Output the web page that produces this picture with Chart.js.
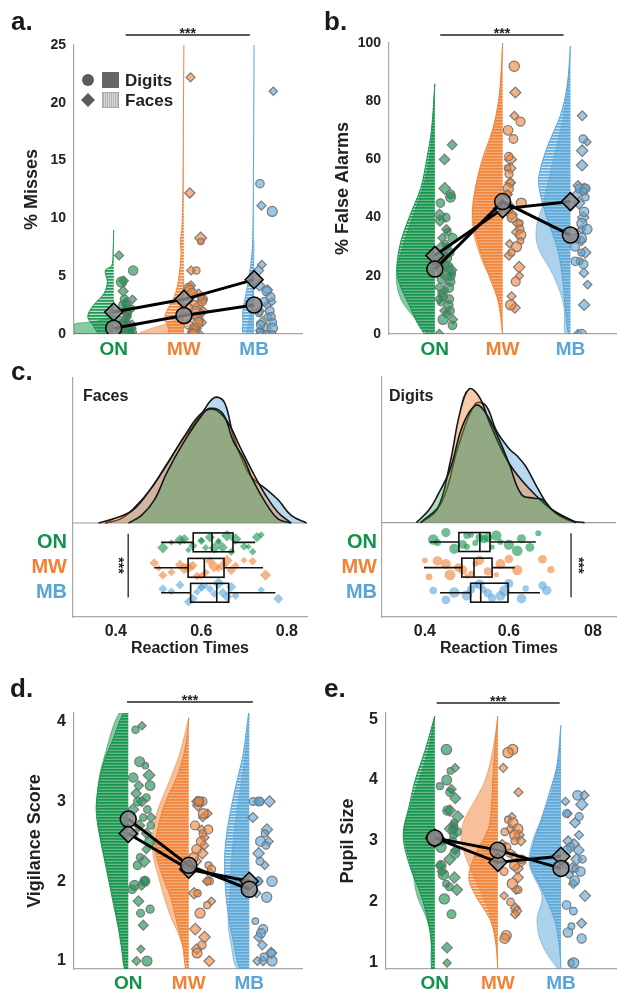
<!DOCTYPE html>
<html><head><meta charset="utf-8">
<script src="https://cdn.jsdelivr.net/npm/chart.js@4.4.0/dist/chart.umd.min.js"></script>
<style>
html,body{margin:0;padding:0;background:#fff}
body{width:627px;height:994px;position:relative;overflow:hidden;font-family:"Liberation Sans",Arial,Helvetica,sans-serif}
canvas{position:absolute;display:block}
.lab{position:absolute;font-weight:bold;font-size:26px;line-height:26px;color:#1a1a1a}
</style></head><body>
<canvas id="ca" width="313" height="360" style="left:0;top:0"></canvas>
<canvas id="cb" width="314" height="360" style="left:313px;top:0"></canvas>
<canvas id="cc1" width="313" height="300" style="left:0;top:360px"></canvas>
<canvas id="cc2" width="314" height="300" style="left:313px;top:360px"></canvas>
<canvas id="cd" width="313" height="324" style="left:0;top:670px"></canvas>
<canvas id="ce" width="314" height="324" style="left:313px;top:670px"></canvas>
<div class="lab" style="left:11px;top:8px">a.</div>
<div class="lab" style="left:324px;top:8px">b.</div>
<div class="lab" style="left:11px;top:358px">c.</div>
<div class="lab" style="left:10px;top:675px">d.</div>
<div class="lab" style="left:324px;top:675px">e.</div>
<script>
// ---------------- DATA ----------------
const categories = ['ON','MW','MB'];
const catColors = ['#12924a','#f08236','#5aa5d8'];

// a. % Misses
const missTicks = [0,5,10,15,20,25];
const missDigits = [
 [0,0,0.2,0.3,0.5,0.6,0.8,1.0,1.1,1.2,1.5,1.8,2.0,2.2,2.5,3.0,4.5,5.5,0.4,0.1],
 [8.0,5.5,4.0,3.8,3.5,3.0,2.5,2.2,2.0,1.5,1.2,1.0,0.8,0.5,0.3,0.1,0,0,2.8,3.2],
 [13.0,10.6,3.7,3.2,2.8,2.0,1.8,1.5,1.0,0.8,0.5,0.2,0,0]
];
const missFaces = [
 [6.8,4.6,3.7,3.0,2.7,2.5,2.0,1.8,1.5,1.0,0.8,0.5,0.2,0],
 [22.2,12.2,8.3,5.5,4.2,3.5,3.0,2.5,2.0,1.8,1.5,1.0,0.5,0.2,0],
 [21.0,11.1,6.0,5.5,4.2,3.8,2.8,2.5,2.0,1.5,1.0,0.5,0.3,0]
];
const missMeanDigits = [0.5,1.6,2.5];
const missMeanFaces = [1.9,3.0,4.7];
const missDensDigits = [
 [[0,0.57],[0.8,0.57],[1.0,0.4],[1.3,0.12],[2,0.03],[3,0]],
 [[0,0.64],[0.5,0.45],[1,0.2],[1.5,0.08],[3,0.02],[5,0]],
 [[0,0.1],[1,0.08],[2,0.05],[4,0.02],[8,0]]
];
const missDensFaces = [
 [[0,0.2],[0.8,0.3],[1.5,0.37],[2.4,0.3],[3.5,0.14],[4.5,0.09],[5.5,0.12],[5.9,0.03],[7,0.01],[9,0]],
 [[0,0.2],[0.5,0.22],[1.5,0.27],[2.5,0.2],[3.5,0.12],[5,0.07],[7,0.04],[8,0.05],[9,0.03],[12,0.015],[18,0.008],[25,0]],
 [[0,0.15],[1,0.16],[2,0.16],[3,0.13],[4,0.1],[5,0.07],[7,0.03],[10,0.015],[15,0.008],[25,0]]
];

// b. % False Alarms
const faTicks = [0,20,40,60,80,100];
const faDigits = [
 [48,47,45,40,35,33,31,30,28,27,26,25,24,23,22,21,20,19,18,16,15,14,13,12,11,10,8,7,5,3],
 [92,73,70,67,61,57,55,52,50,48,45,43,40,38,36,34,32,30,28,18,10],
 [67,50,50,49,47,42,38,36,33,33,30,28,25,25,24,0]
];
const faFaces = [
 [65,60,50,41,39,36,33,30,27,25,22,20,16,12,8,5,0],
 [83,75,60,57,52,48,44,41,38,35,31,27,23,20,13,9],
 [75,66,63,58,51,50,48,45,40,36,32,28,21,17,10,0]
];
const faMeanDigits = [22.3,45.5,34];
const faMeanFaces = [27,43,45.5];
const faDensDigits = [
 [[0,0.1],[5,0.28],[12,0.5],[20,0.57],[28,0.5],[40,0.33],[50,0.18],[60,0.08],[75,0.02],[86,0]],
 [[0,0],[15,0.1],[25,0.3],[35,0.43],[45,0.44],[55,0.35],[65,0.2],[80,0.06],[100,0]],
 [[0,0.08],[10,0.1],[20,0.25],[30,0.48],[37,0.5],[45,0.4],[55,0.3],[65,0.2],[75,0.1],[90,0.02],[99,0]]
];
const faDensFaces = [
 [[0,0.15],[10,0.38],[20,0.55],[30,0.52],[40,0.38],[50,0.21],[60,0.12],[70,0.05],[86,0]],
 [[0,0],[10,0.05],[20,0.2],[30,0.35],[40,0.44],[50,0.4],[60,0.3],[70,0.15],[80,0.06],[90,0.02],[100,0]],
 [[0,0.03],[10,0.08],[20,0.12],[30,0.2],[40,0.35],[50,0.46],[55,0.46],[65,0.33],[75,0.15],[85,0.05],[99,0]]
];

// c. Reaction times
const rtTicks = [0.4,0.6,0.8];
const rtTickLabelsFaces = ['0.4','0.6','0.8'];
const rtTickLabelsDigits = ['0.4','0.6','08'];
const rtDensFaces = [
 [[0.43,0],[0.46,0.3],[0.49,0.9],[0.52,2.0],[0.56,3.2],[0.6,4.2],[0.62,4.5],[0.65,4.3],[0.675,3.2],[0.7,2.5],[0.72,1.7],[0.75,0.8],[0.78,0.15],[0.81,0]],
 [[0.36,0],[0.4,0.2],[0.44,0.5],[0.48,1.3],[0.52,2.3],[0.56,3.4],[0.6,4.3],[0.63,4.45],[0.66,4.0],[0.69,3.0],[0.72,2.0],[0.75,1.1],[0.78,0.4],[0.81,0]],
 [[0.375,0],[0.41,0.15],[0.44,0.54],[0.48,1.3],[0.52,2.33],[0.56,3.36],[0.6,4.26],[0.62,4.77],[0.636,4.94],[0.655,4.7],[0.675,3.4],[0.7,2.3],[0.72,1.75],[0.75,1.35],[0.78,0.9],[0.81,0.3],[0.846,0]]
];
const rtDensDigits = [
 [[0.38,0],[0.41,0.5],[0.43,1.05],[0.46,2.08],[0.49,3.8],[0.52,4.58],[0.54,4.4],[0.57,3.5],[0.6,2.33],[0.63,1.1],[0.66,0.95],[0.68,0.9],[0.71,0.4],[0.76,0]],
 [[0.39,0],[0.43,0.54],[0.46,2.33],[0.483,4.26],[0.505,5.22],[0.53,4.9],[0.555,3.87],[0.6,2.33],[0.65,1.3],[0.7,0.54],[0.76,0]],
 [[0.39,0],[0.44,0.8],[0.48,3.0],[0.52,4.64],[0.545,4.58],[0.57,3.6],[0.6,2.9],[0.62,2.6],[0.64,2.2],[0.67,1.3],[0.7,0.54],[0.74,0.1],[0.78,0]]
];
const rtPtsFaces = [
 [0.51,0.53,0.55,0.56,0.57,0.58,0.6,0.6,0.61,0.62,0.63,0.64,0.64,0.65,0.66,0.67,0.68,0.7,0.71,0.72,0.73,0.74],
 [0.49,0.5,0.51,0.53,0.55,0.56,0.57,0.58,0.59,0.6,0.61,0.62,0.63,0.64,0.65,0.66,0.67,0.68,0.7,0.72,0.75],
 [0.51,0.53,0.55,0.57,0.58,0.59,0.6,0.6,0.61,0.62,0.63,0.64,0.65,0.66,0.67,0.68,0.74,0.78]
];
const rtPtsDigits = [
 [0.42,0.43,0.45,0.47,0.49,0.5,0.5,0.51,0.52,0.53,0.54,0.55,0.56,0.57,0.58,0.6,0.62,0.63,0.65,0.67],
 [0.4,0.41,0.43,0.45,0.46,0.48,0.49,0.5,0.51,0.52,0.53,0.55,0.57,0.58,0.6,0.62,0.68,0.7],
 [0.42,0.45,0.47,0.5,0.51,0.52,0.53,0.54,0.55,0.56,0.58,0.59,0.6,0.63,0.64,0.68,0.69]
];
// [lower whisker, q1, median, q3, upper whisker]
const rtBoxFaces = [[0.506,0.581,0.625,0.674,0.726],[0.49,0.569,0.607,0.653,0.744],[0.506,0.575,0.636,0.664,0.773]];
const rtBoxDigits = [[0.412,0.481,0.531,0.555,0.664],[0.398,0.488,0.517,0.56,0.614],[0.436,0.509,0.533,0.598,0.674]];

// d. Vigilance
const vigTicks = [1,2,3,4];
const vigDigits = [
 [3.9,3.5,3.45,3.3,3.2,3.05,3.0,2.9,2.8,2.7,2.6,2.5,2.3,2.2,2.0,1.95,1.9,1.65,1.6,1.0],
 [3.0,3.0,3.0,2.85,2.7,2.65,2.6,2.5,2.4,2.3,2.2,2.15,2.0,2.0,1.85,1.7,1.6,1.2,1.1],
 [3.0,3.0,3.0,2.6,2.5,2.45,2.25,2.0,2.0,1.8,1.5,1.4,1.35,1.1,1.05,1.0]
];
const vigFaces = [
 [3.95,3.33,3.2,3.1,3.0,2.9,2.8,2.7,2.6,2.4,2.25,2.0,1.95,1.75,1.45,1.15,1.0],
 [3.0,2.95,2.85,2.8,2.65,2.55,2.45,2.35,2.25,2.1,2.0,1.85,1.75,1.4,1.3,1.15,1.0],
 [3.0,3.0,2.8,2.65,2.5,2.35,2.2,2.0,1.85,1.3,1.2,1.1,1.0,1.0]
];
const vigMeanDigits = [2.78,2.2,1.9];
const vigMeanFaces = [2.6,2.15,2.0];
const vigDensDigits = [
 [[0.9,0.05],[1.2,0.1],[1.6,0.2],[2.0,0.3],[2.4,0.42],[2.8,0.5],[3.2,0.5],[3.6,0.38],[4.11,0.15]],
 [[0.9,0],[1.3,0.15],[1.6,0.32],[2.0,0.48],[2.4,0.6],[2.8,0.55],[3.2,0.35],[3.6,0.15],[4.05,0]],
 [[0.9,0.2],[1.2,0.3],[1.5,0.35],[1.8,0.32],[2.2,0.3],[2.6,0.25],[3.0,0.18],[3.5,0.08],[4.1,0]]
];
const vigDensFaces = [
 [[0.9,0.06],[1.1,0.1],[1.4,0.16],[1.7,0.24],[2.0,0.32],[2.3,0.4],[2.6,0.48],[2.9,0.53],[3.2,0.49],[3.5,0.4],[3.8,0.24],[4.11,0.08]],
 [[0.9,0.05],[1.2,0.1],[1.5,0.2],[1.8,0.3],[2.1,0.45],[2.4,0.55],[2.7,0.5],[3.0,0.38],[3.3,0.2],[3.6,0.08],[3.85,0.02],[4.05,0]],
 [[0.9,0.15],[1.2,0.25],[1.6,0.35],[2.0,0.4],[2.4,0.4],[2.8,0.33],[3.2,0.22],[3.6,0.1],[4.11,0.01]]
];

// e. Pupil size
const pupTicks = [1,2,3,4,5];
const pupDigits = [
 [4.5,4.15,4.0,3.9,3.8,3.5,3.3,3.25,3.2,3.15,3.1,3.0,2.9,2.8,2.6,2.45,2.3,2.25,2.05,1.8],
 [4.5,4.45,3.35,3.3,3.2,3.15,3.1,3.0,2.9,2.8,2.7,2.6,2.5,2.3,2.2,2.0,1.45,1.4],
 [3.75,3.45,3.4,2.9,2.85,2.7,2.6,2.55,2.5,2.45,2.35,1.95,1.85,1.6,1.5,1.4,1.0,1.0]
];
const pupFaces = [
 [4.2,3.85,3.7,3.5,3.4,3.2,3.0,2.85,2.7,2.6,2.5,2.4,2.2,1.25,1.0],
 [4.2,3.8,3.4,3.2,3.1,3.0,2.95,2.75,2.65,2.55,2.4,2.2,2.1,1.9,1.85,1.8],
 [3.75,3.65,3.6,3.45,3.3,3.1,3.0,2.95,2.85,2.7,2.55,2.3,2.1,1.65]
];
const pupMeanDigits = [3.05,2.85,2.55];
const pupMeanFaces = [3.05,2.65,2.75];
const pupDensDigits = [
 [[0.9,0.02],[1.3,0.05],[1.7,0.12],[2.1,0.28],[2.5,0.35],[2.9,0.45],[3.2,0.48],[3.6,0.38],[4.0,0.25],[4.5,0.1],[5.05,0]],
 [[0.9,0],[1.5,0.05],[2.0,0.2],[2.5,0.42],[3.0,0.58],[3.3,0.55],[3.6,0.4],[4.0,0.2],[4.5,0.08],[5.05,0]],
 [[0.9,0.05],[1.3,0.3],[1.7,0.38],[2.1,0.3],[2.6,0.5],[3.0,0.45],[3.5,0.25],[4.0,0.1],[4.9,0]]
];
const pupDensFaces = [
 [[0.9,0.05],[1.4,0.06],[1.8,0.13],[2.2,0.25],[2.6,0.4],[3.1,0.5],[3.6,0.4],[4.0,0.31],[4.5,0.15],[5.05,0]],
 [[0.9,0],[1.3,0.03],[1.7,0.12],[2.1,0.35],[2.4,0.46],[2.8,0.35],[3.2,0.15],[3.6,0.1],[4.0,0.08],[4.5,0.05],[5.05,0]],
 [[0.9,0],[1.3,0.03],[1.7,0.1],[2.2,0.3],[2.6,0.48],[2.9,0.45],[3.3,0.33],[3.8,0.18],[4.3,0.05],[4.9,0]]
];

// ---------------- RENDERING ----------------
const FONT = '"Liberation Sans", Arial, Helvetica, sans-serif';
Chart.defaults.font.family = FONT;
Chart.defaults.color = '#222';
Chart.defaults.animation = false;
Chart.defaults.events = [];
Chart.defaults.plugins.legend.display = false;
Chart.defaults.plugins.tooltip.enabled = false;

function rgba(hex,a){const n=parseInt(hex.slice(1),16);return `rgba(${n>>16&255},${n>>8&255},${n&255},${a})`;}
function jit(i,s){const t=Math.sin((i+1)*12.9898+s*78.233)*43758.5453;return t-Math.floor(t);}
function hatch(hex){
  const c=document.createElement('canvas');c.width=4;c.height=3;
  const g=c.getContext('2d');
  g.fillStyle=rgba(hex,0.95);g.fillRect(0,0,4,1);
  g.fillStyle=rgba(hex,0.75);g.fillRect(0,1,4,1);
  g.fillStyle=rgba(hex,0.3);g.fillRect(0,2,4,1);
  return g.createPattern(c,'repeat');
}
function violin(cat,dens,hex,hatched){
  const pts=[{x:cat,y:dens[0][0]}];
  dens.forEach(d=>pts.push({x:cat-d[1],y:d[0]}));
  pts.push({x:cat,y:dens[dens.length-1][0]});
  return {type:'line',data:pts,fill:'shape',backgroundColor:hatched?hatch(hex):rgba(hex,0.5),
    borderColor:rgba(hex,hatched?0.95:0.55),borderWidth:1,pointRadius:0,tension:0.35,order:hatched?15:20};
}
function cloud(cat,vals,hex,style,seed,spread){
  return {type:'scatter',data:vals.map((v,i)=>({x:cat+0.06+spread*jit(i,seed),y:v})),
    pointStyle:style,pointRadius:vals.map((v,i)=>(style==='circle'?3.2:4.0)+2.0*jit(i,seed+7)),
    pointBackgroundColor:rgba(hex,0.62),pointBorderColor:'rgba(118,118,118,0.95)',pointBorderWidth:1.2,order:5};
}
function means(vals,style){
  return {type:'line',data:vals.map((v,i)=>({x:i+1,y:v})),borderColor:'#000',borderWidth:3,
    pointStyle:style,pointRadius:style==='circle'?8:9,pointBackgroundColor:'rgba(135,135,135,0.85)',
    pointBorderColor:'#000',pointBorderWidth:1.5,fill:false,tension:0,order:0};
}
function sigBar(chart,x1,x2,y){
  const xs=chart.scales.x,ctx=chart.ctx;
  const a=xs.getPixelForValue(x1),b=xs.getPixelForValue(x2);
  ctx.save();ctx.strokeStyle='#222';ctx.lineWidth=1.3;
  ctx.beginPath();ctx.moveTo(a,y);ctx.lineTo(b,y);ctx.stroke();
  ctx.fillStyle='#222';ctx.font='bold 14px '+FONT;ctx.textAlign='center';ctx.textBaseline='alphabetic';
  ctx.fillText('***',(a+b)/2,y+3);ctx.restore();
}
function rainChart(id,o){
  const ds=[];
  for(let i=0;i<3;i++){ds.push(violin(i+1,o.densD[i],catColors[i],false));ds.push(violin(i+1,o.densF[i],catColors[i],true));}
  for(let i=0;i<3;i++){ds.push(cloud(i+1,o.ptsD[i],catColors[i],'circle',i*3+1+o.seed,o.spread));ds.push(cloud(i+1,o.ptsF[i],catColors[i],'rectRot',i*3+2+o.seed,o.spread));}
  ds.push(means(o.meanD,'circle'));ds.push(means(o.meanF,'rectRot'));
  return new Chart(document.getElementById(id),{type:'scatter',data:{datasets:ds},
    options:{responsive:false,layout:{padding:{top:o.padTop,right:o.padRight,left:0,bottom:0}},
      scales:{
        x:{type:'linear',min:o.xmin,max:o.xmax,
          afterBuildTicks:s=>{s.ticks=[1,2,3].map(v=>({value:v}));},
          afterFit:s=>{s.height=o.xH;},
          grid:{display:false,drawTicks:false},border:{color:'#a8a8a8',width:1.2},
          ticks:{padding:o.xPad,font:{size:19,weight:'bold'},color:c=>catColors[c.index],callback:(v,i)=>categories[i]}},
        y:{type:'linear',min:o.ymin,max:o.ymax,
          afterBuildTicks:s=>{s.ticks=o.ticks.map(v=>({value:v}));},
          afterFit:s=>{s.width=o.yW;},
          grid:{display:false,drawTicks:false},border:{color:'#a8a8a8',width:1.2},
          ticks:{padding:8,font:{size:o.tickSize,weight:'bold'},color:'#222',callback:v=>String(v)},
          title:{display:true,text:o.title,font:{size:18,weight:'bold'},color:'#222',padding:{top:o.titlePad,bottom:0}}}
      }},
    plugins:[{id:'ann',afterDraw(ch){sigBar(ch,o.sig[0],o.sig[1],o.sig[2]);if(o.extra)o.extra(ch);}}]});
}

function legendA(ch){
  const ctx=ch.ctx;ctx.save();
  ctx.fillStyle='#5a5a5a';
  ctx.beginPath();ctx.arc(88,80,6,0,Math.PI*2);ctx.fill();
  ctx.fillStyle='#666';ctx.fillRect(102,72,17,16);
  ctx.beginPath();ctx.moveTo(88,93);ctx.lineTo(95,100);ctx.lineTo(88,107);ctx.lineTo(81,100);ctx.closePath();ctx.fillStyle='#5a5a5a';ctx.fill();
  ctx.fillStyle='#d6d6d6';ctx.fillRect(102,92,17,16);
  ctx.strokeStyle='#b5b5b5';ctx.lineWidth=1;
  for(let x=103.5;x<119;x+=2){ctx.beginPath();ctx.moveTo(x,92);ctx.lineTo(x,108);ctx.stroke();}
  ctx.strokeStyle='#aaa';ctx.strokeRect(102.5,92.5,16,15);
  ctx.fillStyle='#222';ctx.font='bold 17px '+FONT;ctx.textAlign='left';ctx.textBaseline='middle';
  ctx.fillText('Digits',125,81);ctx.fillText('Faces',125,101);
  ctx.restore();
}

rainChart('ca',{densD:missDensDigits,densF:missDensFaces,ptsD:missDigits,ptsF:missFaces,meanD:missMeanDigits,meanF:missMeanFaces,
  ticks:missTicks,ymin:0,ymax:25,xmin:0.434,xmax:3.69,padTop:45,padRight:3,yW:74,xH:26,xPad:4,tickSize:14,
  title:'% Misses',titlePad:21,spread:0.22,seed:0,sig:[1.17,2.94,35],extra:legendA});
rainChart('cb',{densD:faDensDigits,densF:faDensFaces,ptsD:faDigits,ptsF:faFaces,meanD:faMeanDigits,meanF:faMeanFaces,
  ticks:faTicks,ymin:0,ymax:100,xmin:0.324,xmax:3.68,padTop:43,padRight:0,yW:76,xH:26,xPad:4,tickSize:14,
  title:'% False Alarms',titlePad:19,spread:0.22,seed:20,sig:[1.08,2.9,35]});
rainChart('cd',{densD:vigDensDigits,densF:vigDensFaces,ptsD:vigDigits,ptsF:vigFaces,meanD:vigMeanDigits,meanF:vigMeanFaces,
  ticks:vigTicks,ymin:0.9,ymax:4.11,xmin:0.104,xmax:3.88,padTop:43,padRight:3,yW:74,xH:25,xPad:3,tickSize:16,
  title:'Vigilance Score',titlePad:24,spread:0.32,seed:40,sig:[0.98,3.06,32]});
rainChart('ce',{densD:pupDensDigits,densF:pupDensFaces,ptsD:pupDigits,ptsF:pupFaces,meanD:pupMeanDigits,meanF:pupMeanFaces,
  ticks:pupTicks,ymin:0.9,ymax:5.1,xmin:0.227,xmax:3.88,padTop:43,padRight:0,yW:73,xH:25,xPad:3,tickSize:16,
  title:'Pupil Size',titlePad:24,spread:0.32,seed:60,sig:[1.03,2.98,33]});

// panel c
const rtRows=[-0.76,-1.76,-2.74];
const rtFillAlpha=[0.33,0.42,0.42];
function rtChart(id,o){
  const ds=[{type:'line',data:[{x:o.xmin,y:0},{x:o.xmax,y:0}],borderColor:'#9a9a9a',borderWidth:1.2,pointRadius:0,order:40}];
  [2,1,0].forEach((i,k)=>ds.push({type:'line',data:o.dens[i].map(d=>({x:d[0],y:d[1]})),fill:'origin',
    backgroundColor:rgba(catColors[i],rtFillAlpha[i]),borderColor:'#161616',borderWidth:1.6,pointRadius:0,tension:0.4,order:30-k}));
  for(let i=0;i<3;i++){
    const pts=o.pts[i];
    ds.push({type:'scatter',data:pts.map((v,k)=>({x:v,y:rtRows[i]+(jit(k,o.seed+i)-0.5)*0.75})),
      pointStyle:o.style,pointRadius:pts.map((v,k)=>(o.style==='circle'?2.5:3.0)+3.0*jit(k,o.seed+i+11)),
      pointBackgroundColor:rgba(catColors[i],0.6),pointBorderWidth:0,order:5});
  }
  return new Chart(document.getElementById(id),{type:'scatter',data:{datasets:ds},
    options:{responsive:false,layout:{padding:{top:13,right:o.padRight,left:0,bottom:0}},
      scales:{
        x:{type:'linear',min:o.xmin,max:o.xmax,
          afterBuildTicks:s=>{s.ticks=rtTicks.map(v=>({value:v}));},
          afterFit:s=>{s.height=43;},
          grid:{display:false,drawTicks:false},border:{color:'#a8a8a8',width:1.2},
          ticks:{padding:5,font:{size:16,weight:'bold'},color:'#222',callback:(v,i)=>o.tickLabels[i]},
          title:{display:true,text:'Reaction Times',font:{size:16,weight:'bold'},color:'#222',padding:{top:0,bottom:2}}},
        y:{type:'linear',min:-3.69,max:5.69,
          afterBuildTicks:s=>{s.ticks=rtRows.map(v=>({value:v}));},
          afterFit:s=>{s.width=o.yW;},
          grid:{display:false,drawTicks:false},border:{color:'#a8a8a8',width:1.2},
          ticks:{padding:o.yPad,font:{size:20,weight:'bold'},color:c=>catColors[c.index],callback:(v,i)=>categories[i]}}
      }},
    plugins:[{id:'box',afterDraw(ch){
      const ctx=ch.ctx,xs=ch.scales.x,ys=ch.scales.y;
      ctx.save();ctx.strokeStyle='#111';ctx.lineWidth=1.6;
      o.box.forEach((b,i)=>{
        const yc=ys.getPixelForValue(rtRows[i]),h=ys.getPixelForValue(rtRows[i]-0.37)-yc;
        const p=b.map(v=>xs.getPixelForValue(v));
        ctx.beginPath();ctx.moveTo(p[0],yc);ctx.lineTo(p[1],yc);ctx.moveTo(p[3],yc);ctx.lineTo(p[4],yc);
        ctx.moveTo(p[2],yc-h);ctx.lineTo(p[2],yc+h);ctx.stroke();
        ctx.strokeRect(p[1],yc-h,p[3]-p[1],2*h);
      });
      const sx=xs.getPixelForValue(o.sigX);
      ctx.lineWidth=1.3;ctx.strokeStyle='#222';
      ctx.beginPath();ctx.moveTo(sx,ys.getPixelForValue(-0.42));ctx.lineTo(sx,ys.getPixelForValue(-2.92));ctx.stroke();
      ctx.translate(xs.getPixelForValue(o.starX),ys.getPixelForValue(-1.67));ctx.rotate(Math.PI/2);
      ctx.fillStyle='#222';ctx.font='bold 14px '+FONT;ctx.textAlign='center';ctx.textBaseline='alphabetic';
      ctx.fillText('***',0,6);
      ctx.setTransform(1,0,0,1,0,0);
      ctx.font='bold 16px '+FONT;ctx.textAlign='left';ctx.textBaseline='middle';
      ctx.fillText(o.label,o.labelX,37);
      ctx.restore();
    }}]});
}
rtChart('cc1',{dens:rtDensFaces,pts:rtPtsFaces,box:rtBoxFaces,style:'rectRot',seed:80,xmin:0.3,xmax:0.847,padRight:6,yW:73,yPad:6,
  tickLabels:rtTickLabelsFaces,sigX:0.429,starX:0.41,label:'Faces',labelX:83});
rtChart('cc2',{dens:rtDensDigits,pts:rtPtsDigits,box:rtBoxDigits,style:'circle',seed:90,xmin:0.298,xmax:0.855,padRight:11,yW:69,yPad:5,
  tickLabels:rtTickLabelsDigits,sigX:0.748,starX:0.769,label:'Digits',labelX:76});
</script>
</body></html>
